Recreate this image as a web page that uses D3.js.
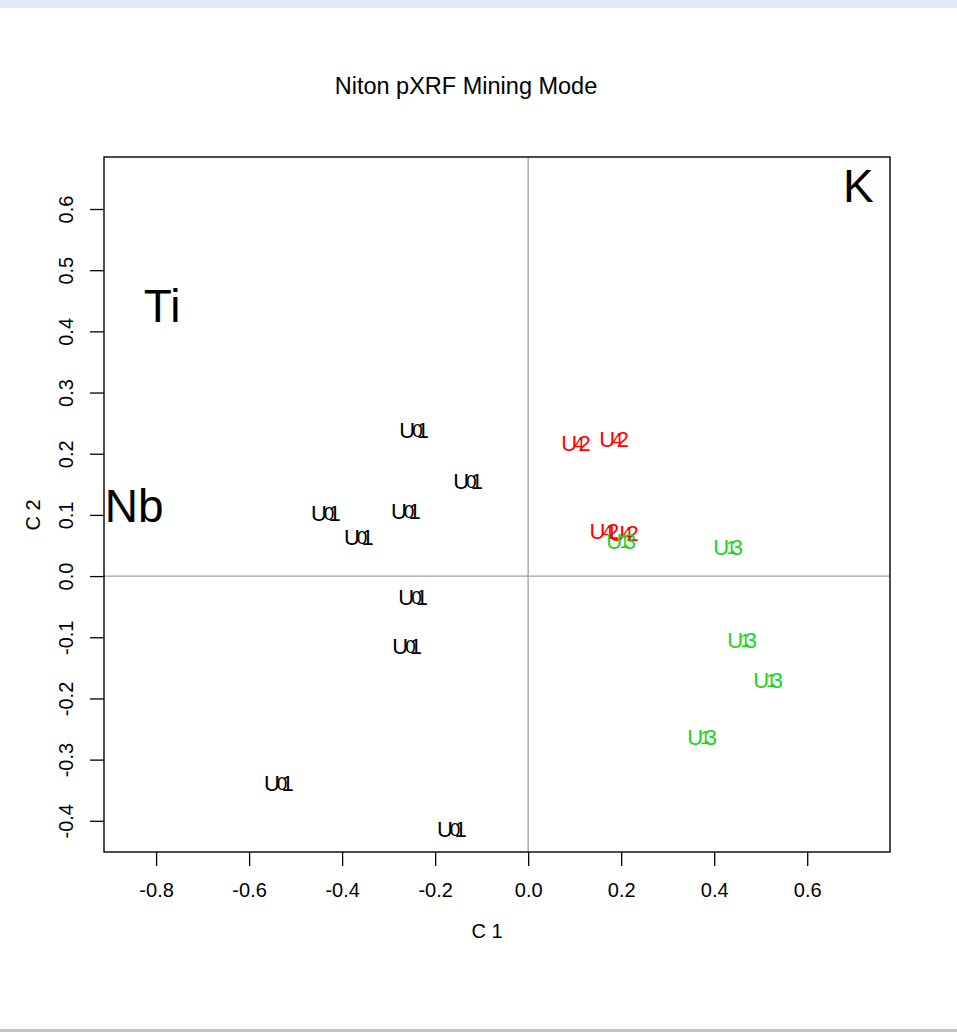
<!DOCTYPE html>
<html>
<head>
<meta charset="utf-8">
<script src="https://cdn.jsdelivr.net/npm/d3@7"></script>
<style>
  html, body { margin: 0; padding: 0; background: #ffffff; }
  svg { display: block; font-family: "Liberation Sans", Arial, sans-serif; }
</style>
</head>
<body>
<svg id="chart" width="957" height="1032"></svg>
<script>
// Sample scores on the first two components, grouped by unit
const u1X = [-0.247, -0.131, -0.265, -0.437, -0.366, -0.249, -0.262, -0.538, -0.166];
const u1Y = [0.239, 0.155, 0.106, 0.103, 0.064, -0.034, -0.114, -0.338, -0.413];
const u2X = [0.101, 0.183, 0.162, 0.204];
const u2Y = [0.217, 0.224, 0.074, 0.071];
const u3X = [0.198, 0.428, 0.458, 0.514, 0.372];
const u3Y = [0.057, 0.047, -0.105, -0.170, -0.263];

const groupDigits = ["1", "2", "3"];
const groupMarks = ["0", "4", "1"];
const groupColors = ["#000000", "#ff0000", "#1fd21f"];

// Element (variable) positions
const varNames = ["K", "Ti", "Nb"];
const varX = [0.710, -0.787, -0.847];
const varY = [0.637, 0.441, 0.114];

const xTicks = [-0.8, -0.6, -0.4, -0.2, 0.0, 0.2, 0.4, 0.6];
const yTicks = [-0.4, -0.3, -0.2, -0.1, 0.0, 0.1, 0.2, 0.3, 0.4, 0.5, 0.6];

const svg = d3.select("#chart");

// page chrome bands
svg.append("rect").attr("x", 0).attr("y", 0).attr("width", 957).attr("height", 8).attr("fill", "#e1e8f6");
svg.append("rect").attr("x", 0).attr("y", 1029).attr("width", 957).attr("height", 3).attr("fill", "#c4c4c4");

const box = { left: 104, right: 890, top: 157, bottom: 852 };

const x = d3.scaleLinear().domain([-0.912, 0.778]).range([box.left, box.right]);
const y = d3.scaleLinear().domain([-0.451, 0.685]).range([box.bottom, box.top]);

// reference lines through the origin
svg.append("line").attr("x1", x(0)).attr("x2", x(0)).attr("y1", box.top).attr("y2", box.bottom)
  .attr("stroke", "#a0a0a0").attr("stroke-width", 1.3);
svg.append("line").attr("x1", box.left).attr("x2", box.right).attr("y1", y(0)).attr("y2", y(0))
  .attr("stroke", "#a0a0a0").attr("stroke-width", 1.3);

// axes (plain hyphen for negatives)
const fmt = v => d3.format(".1f")(v).replace("\u2212", "-");
const xAxis = svg.append("g").attr("transform", `translate(0,${box.bottom})`)
  .call(d3.axisBottom(x).tickValues(xTicks).tickFormat(fmt).tickSize(14).tickSizeOuter(0).tickPadding(17));
xAxis.select(".domain").remove();
xAxis.selectAll("line").attr("stroke", "#000").attr("stroke-width", 1.3);
xAxis.selectAll("text").attr("font-size", 20).attr("fill", "#000")
  .attr("font-family", "Liberation Sans, Arial, sans-serif");

const yAxis = svg.append("g").attr("transform", `translate(${box.left},0)`)
  .call(d3.axisLeft(y).tickValues(yTicks).tickFormat(fmt).tickSize(14).tickSizeOuter(0).tickPadding(0));
yAxis.select(".domain").remove();
yAxis.selectAll("line").attr("stroke", "#000").attr("stroke-width", 1.3);
yAxis.selectAll("text").attr("font-size", 20).attr("fill", "#000")
  .attr("font-family", "Liberation Sans, Arial, sans-serif")
  .attr("text-anchor", "middle").attr("dy", null).attr("x", null)
  .attr("transform", "translate(-38,0) rotate(-90)")
  .attr("dominant-baseline", "central");

// plot frame
svg.append("rect").attr("x", box.left).attr("y", box.top)
  .attr("width", box.right - box.left).attr("height", box.bottom - box.top)
  .attr("fill", "none").attr("stroke", "#000").attr("stroke-width", 1.4);

// titles
svg.append("text").attr("x", 466).attr("y", 94).attr("text-anchor", "middle")
  .attr("font-size", 23.5).attr("fill", "#000").text("Niton pXRF Mining Mode");
svg.append("text").attr("x", 487).attr("y", 938).attr("text-anchor", "middle")
  .attr("font-size", 20).attr("fill", "#000").text("C 1");
svg.append("text").attr("transform", `translate(40,${y(0.1)}) rotate(-90)`).attr("text-anchor", "middle")
  .attr("font-size", 20).attr("fill", "#000").text("C 2");

// sample labels: "U" + digit overprinted on a second glyph
const groups = [
  { xs: u1X, ys: u1Y },
  { xs: u2X, ys: u2Y },
  { xs: u3X, ys: u3Y }
];
const pts = [];
groups.forEach((g, gi) => g.xs.forEach((v, i) => pts.push({ x: v, y: g.ys[i], g: gi })));

const lab = svg.append("g").selectAll("text").data(pts).join("text")
  .attr("x", d => x(d.x) - 14).attr("y", d => y(d.y))
  .attr("dominant-baseline", "central")
  .attr("font-size", 22).attr("fill", d => groupColors[d.g]);
lab.append("tspan").text("U");
lab.append("tspan").attr("dx", -3).attr("font-size", 19).text(d => groupMarks[d.g]);
lab.append("tspan").attr("dx", -6).text(d => groupDigits[d.g]);

// variable labels
svg.append("g").selectAll("text").data(varNames).join("text")
  .attr("x", (d, i) => x(varX[i])).attr("y", (d, i) => y(varY[i]))
  .attr("text-anchor", "middle").attr("dominant-baseline", "central")
  .attr("font-size", 46).attr("fill", "#000").text(d => d);
</script>
</body>
</html>
